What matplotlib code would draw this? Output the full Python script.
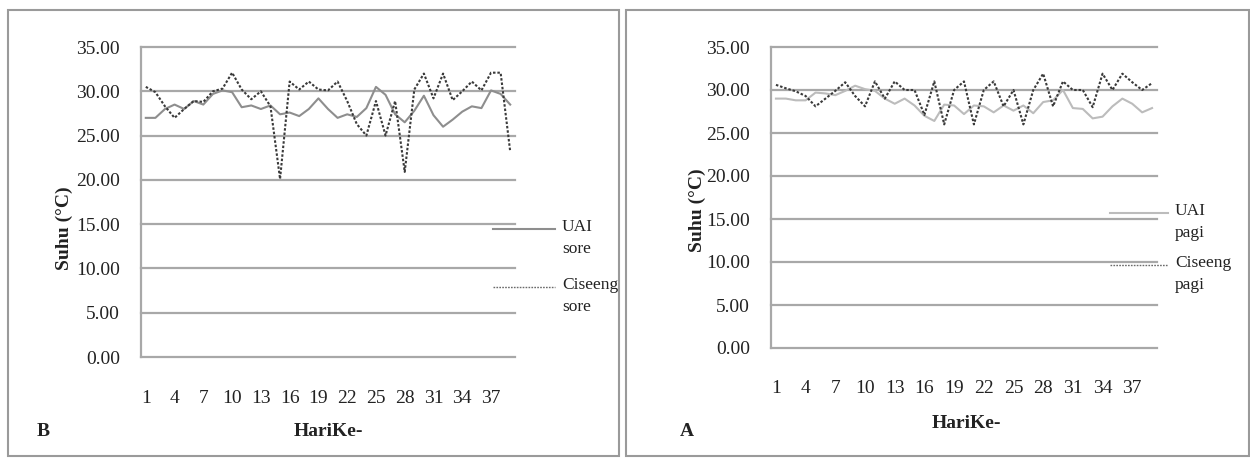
import matplotlib
matplotlib.use("Agg")
import matplotlib.pyplot as plt
import numpy as np
from matplotlib.lines import Line2D
from matplotlib.patches import Rectangle

plt.rcParams["font.family"] = ["Liberation Serif", "DejaVu Serif"]

W, H = 1250, 458

days = np.arange(1, 40)
day_ticks = list(range(1, 38, 3))
y_ticks = [0, 5, 10, 15, 20, 25, 30, 35]

uai_sore = [27.0, 27.0, 28.0, 28.5, 28.0, 28.9, 28.5, 29.7, 30.1, 29.9,
            28.2, 28.4, 28.0, 28.4, 27.4, 27.6, 27.2, 28.0, 29.2, 28.0,
            27.0, 27.4, 27.1, 28.1, 30.5, 29.6, 27.4, 26.5, 27.8, 29.5,
            27.3, 26.0, 26.8, 27.7, 28.3, 28.1, 30.1, 29.7, 28.5]
ciseeng_sore = [30.5, 29.9, 28.3, 27.0, 28.0, 28.9, 28.8, 30.0, 30.3, 32.1,
                30.2, 29.1, 30.0, 28.3, 20.1, 31.1, 30.2, 31.1, 30.2, 30.1,
                31.1, 28.9, 26.3, 25.0, 28.9, 25.0, 28.9, 20.9, 30.2, 32.0,
                29.2, 32.0, 29.0, 30.0, 31.1, 30.1, 32.1, 32.1, 23.2]

uai_pagi = [29.0, 29.0, 28.8, 28.8, 29.7, 29.6, 29.4, 29.9, 30.5, 30.1,
            29.9, 29.0, 28.4, 29.0, 28.2, 27.0, 26.4, 28.3, 28.2, 27.2,
            28.2, 28.1, 27.4, 28.2, 27.6, 28.2, 27.3, 28.6, 28.8, 30.0,
            27.9, 27.8, 26.7, 26.9, 28.1, 29.0, 28.4, 27.4, 27.9]
ciseeng_pagi = [30.6, 30.2, 29.85, 29.3, 28.1, 29.0, 29.9, 30.9, 29.3, 28.1,
                31.0, 29.0, 31.0, 30.0, 30.0, 27.1, 31.0, 26.0, 30.0, 31.0,
                26.0, 30.0, 31.0, 28.1, 30.0, 26.0, 30.0, 31.9, 28.1, 31.0,
                30.0, 30.0, 28.0, 31.9, 30.0, 31.9, 30.9, 30.0, 30.8]

GRID = "#a8a8a8"
TXT = "#222222"
DOT = "#3a3a3a"


def fx(px):
    return px / W


def fy(py):
    return 1 - py / H


def panel(fig, box, solid, dotted, solid_color, legend, letter, xlab_y, ylab_xy, label_x):
    left, top, right, bottom = box
    ax = fig.add_axes([fx(left), fy(bottom), fx(right - left), (bottom - top) / H])
    for v in y_ticks:
        ax.axhline(v, color=GRID, lw=1.6, zorder=0, clip_on=False)
    ax.plot(days, solid, color=solid_color, lw=1.5, zorder=2)
    ax.plot(days, dotted, color=DOT, lw=1.5, ls=(0, (1.2, 0.9)), zorder=3)
    ax.set_xlim(0.5, 39.5)
    ax.set_ylim(0, 35)
    ax.set_xticks(day_ticks)
    ax.set_yticks(y_ticks)
    ax.set_yticklabels([f"{v:.2f}" for v in y_ticks])
    ax.tick_params(length=0, labelsize=14, colors=TXT)
    ax.tick_params(axis="y", pad=15)
    ax.tick_params(axis="x", pad=xlab_y - bottom - 12)
    for s in ["top", "right", "bottom"]:
        ax.spines[s].set_visible(False)
    ax.spines["left"].set_color(GRID)
    ax.spines["left"].set_linewidth(1.6)
    ax.patch.set_alpha(0)

    # legend drawn by hand so the labels sit top-aligned with their sample lines
    lx0, lx1, ly1, ly2, names = legend
    fig.add_artist(Line2D([fx(lx0), fx(lx1)], [fy(ly1), fy(ly1)], color=solid_color, lw=1.5))
    fig.add_artist(Line2D([fx(lx0), fx(lx1)], [fy(ly2), fy(ly2)], color="#6a6a6a", lw=1.0,
                          ls=(0, (1.2, 0.9))))
    for ly, name in zip([ly1, ly2], names):
        fig.text(fx(lx1 + 7), fy(ly - 10), name, fontsize=12.5, color=TXT,
                 va="top", ha="left", linespacing=1.5)

    fig.text(fx(letter[0]), fy(letter[1]), letter[2], fontsize=14, fontweight="bold",
             color=TXT, ha="left", va="center")
    fig.text(fx(label_x[0]), fy(label_x[1]), "HariKe-", fontsize=14, fontweight="bold",
             color=TXT, ha="center", va="center")
    fig.text(fx(ylab_xy[0]), fy(ylab_xy[1]), "Suhu (°C)", fontsize=14, fontweight="bold",
             color=TXT, ha="center", va="center", rotation=90)
    return ax


fig = plt.figure(figsize=(W / 100, H / 100), dpi=100)

# panel frames
fig.add_artist(Rectangle((fx(8), fy(456)), fx(611), (456 - 10) / H, fill=False,
                         ec="#9a9a9a", lw=1.5))
fig.add_artist(Rectangle((fx(626), fy(456)), fx(623), (456 - 10) / H, fill=False,
                         ec="#9a9a9a", lw=1.5))

panel(fig, (141, 47, 515, 357), uai_sore, ciseeng_sore, "#8e8e8e",
      (493, 555, 229, 287, ["UAI\nsore", "Ciseeng\nsore"]),
      (37, 432, "B"), 393, (64, 228), (328, 432))

panel(fig, (771, 47, 1157, 348), uai_pagi, ciseeng_pagi, "#bcbcbc",
      (1110, 1168, 213, 265, ["UAI\npagi", "Ciseeng\npagi"]),
      (680, 432, "A"), 383, (697, 210), (966, 424))

fig.savefig("out.png", dpi=100)
